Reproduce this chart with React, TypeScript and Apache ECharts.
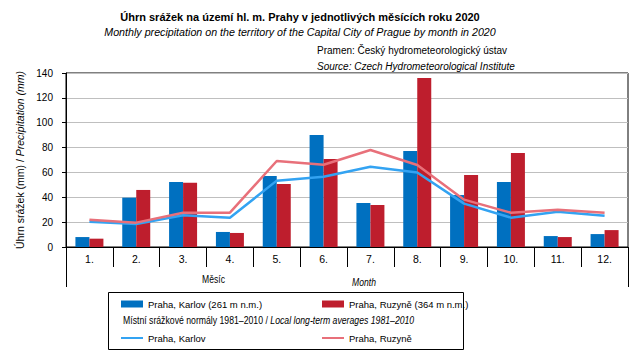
import React, { useEffect, useRef } from "react";
import * as echarts from "echarts";

const months = ["1.", "2.", "3.", "4.", "5.", "6.", "7.", "8.", "9.", "10.", "11.", "12."];
const karlov2020 = [8.0, 39.7, 52.3, 12.1, 57.1, 90.1, 35.4, 77.2, 41.8, 52.3, 8.8, 10.4];
const ruzyne2020 = [6.7, 45.9, 51.7, 11.3, 50.7, 70.8, 33.8, 136.0, 57.9, 75.6, 8.0, 13.6];
const karlovNormal = [20.4, 18.5, 25.5, 23.6, 53.4, 56.6, 64.6, 60.0, 34.9, 23.6, 28.4, 25.2];
const ruzyneNormal = [22.0, 19.6, 27.6, 27.6, 69.2, 66.2, 78.0, 66.0, 38.1, 27.6, 30.0, 27.6];

const FONT = "Liberation Sans";
const BLUE = "#0070C0";
const RED = "#BE1E2D";
const LBLUE = "#33A3F2";
const PINK = "#E8707A";

export default function App() {
  const ref = useRef<HTMLDivElement>(null);
  useEffect(() => {
    if (!ref.current) return;
    const chart = echarts.init(ref.current, null, { renderer: "svg" });
    const legendText = { fontFamily: FONT, fontSize: 9.5, color: "#000" };
    const legendBase = { padding: 0, itemWidth: 22, itemGap: 0, textStyle: legendText, icon: "rect" };
    chart.setOption({
      animation: false,
      textStyle: { fontFamily: FONT },
      title: [
        {
          text: "Úhrn srážek na území hl. m. Prahy v jednotlivých měsících roku 2020",
          left: 295, top: 6, textAlign: "center",
          textStyle: { fontFamily: FONT, fontSize: 11, fontWeight: "bold", color: "#000" },
        },
        {
          text: "Monthly precipitation on the territory of the Capital City of Prague by month in 2020",
          left: 295, top: 21, textAlign: "center",
          textStyle: { fontFamily: FONT, fontSize: 10.7, fontStyle: "italic", fontWeight: "normal", color: "#000" },
        },
        {
          text: "Pramen: Český hydrometeorologický ústav",
          left: 312, top: 40,
          textStyle: { fontFamily: FONT, fontSize: 10, fontWeight: "normal", color: "#000" },
        },
        {
          text: "Source: Czech Hydrometeorological Institute",
          left: 312, top: 56,
          textStyle: { fontFamily: FONT, fontSize: 10, fontStyle: "italic", fontWeight: "normal", color: "#000" },
        },
      ],
      grid: { left: 66, right: 15, top: 73, bottom: 108, show: true, borderColor: "#000", borderWidth: 1 },
      xAxis: {
        type: "category",
        data: months,
        axisLine: { lineStyle: { color: "#000" } },
        axisTick: { show: true, length: 20, interval: 0, lineStyle: { color: "#000" } },
        axisLabel: { color: "#000", fontSize: 10.5, fontFamily: FONT, margin: 6, interval: 0 },
      },
      yAxis: {
        type: "value",
        min: 0, max: 140, interval: 20,
        axisLine: { show: true, lineStyle: { color: "#000" } },
        axisTick: { show: true, length: 4, lineStyle: { color: "#000" } },
        axisLabel: { color: "#000", fontSize: 10, fontFamily: FONT, margin: 13 },
        splitLine: { lineStyle: { color: "#BFBFBF" } },
        name: "{a|Úhrn srážek (mm) / }{b|Precipitation (mm)}",
        nameLocation: "middle",
        nameGap: 35,
        nameRotate: 90,
        nameTextStyle: {
          rich: {
            a: { fontFamily: FONT, fontSize: 10.5, color: "#000" },
            b: { fontFamily: FONT, fontSize: 10.5, color: "#000", fontStyle: "italic" },
          },
        },
      },
      legend: [
        { ...legendBase, data: ["Praha, Karlov (261 m n.m.)"], left: 121, top: 299, itemHeight: 7 },
        { ...legendBase, data: ["Praha, Ruzyně (364 m n.m.)"], left: 322, top: 299, itemHeight: 7 },
        { ...legendBase, data: ["Praha, Karlov"], left: 121, top: 333, itemHeight: 2 },
        { ...legendBase, data: ["Praha, Ruzyně"], left: 322, top: 333, itemHeight: 2 },
      ],
      graphic: [
        { type: "line", shape: { x1: 66.5, y1: 247, x2: 66.5, y2: 287 }, style: { stroke: "#000", lineWidth: 1 } },
        { type: "line", shape: { x1: 628.5, y1: 247, x2: 628.5, y2: 287 }, style: { stroke: "#000", lineWidth: 1 } },
        { type: "text", x: 213.5, y: 279, scaleX: 0.78, style: { text: "Měsíc", font: `11px '${FONT}'`, fill: "#000", textAlign: "center", textVerticalAlign: "middle" } },
        { type: "text", x: 364, y: 282, scaleX: 0.78, style: { text: "Month", font: `italic 11px '${FONT}'`, fill: "#000", textAlign: "center", textVerticalAlign: "middle" } },
        { type: "rect", shape: { x: 108.5, y: 292.5, width: 355, height: 57 }, style: { fill: "none", stroke: "#000", lineWidth: 1 } },
        {
          type: "text", x: 123, y: 320, scaleX: 0.79,
          style: {
            text: "{a|Místní srážkové normály 1981–2010 / }{b|Local long-term averages 1981–2010}",
            textVerticalAlign: "middle",
            rich: {
              a: { fontFamily: FONT, fontSize: 11, fill: "#000" },
              b: { fontFamily: FONT, fontSize: 11, fill: "#000", fontStyle: "italic" },
            },
          },
        },
      ],
      series: [
        { name: "Praha, Karlov (261 m n.m.)", type: "bar", data: karlov2020, barWidth: 14, barGap: "0%", itemStyle: { color: BLUE }, z: 2 },
        { name: "Praha, Ruzyně (364 m n.m.)", type: "bar", data: ruzyne2020, barWidth: 14, barGap: "0%", itemStyle: { color: RED }, z: 2 },
        { name: "Praha, Karlov", type: "line", data: karlovNormal, symbol: "none", lineStyle: { color: LBLUE, width: 2.5 }, itemStyle: { color: LBLUE }, z: 3 },
        { name: "Praha, Ruzyně", type: "line", data: ruzyneNormal, symbol: "none", lineStyle: { color: PINK, width: 2.5 }, itemStyle: { color: PINK }, z: 3 },
      ],
    });
    return () => chart.dispose();
  }, []);
  return <div ref={ref} style={{ width: 643, height: 355, position: "absolute", left: 0, top: 0 }} />;
}
